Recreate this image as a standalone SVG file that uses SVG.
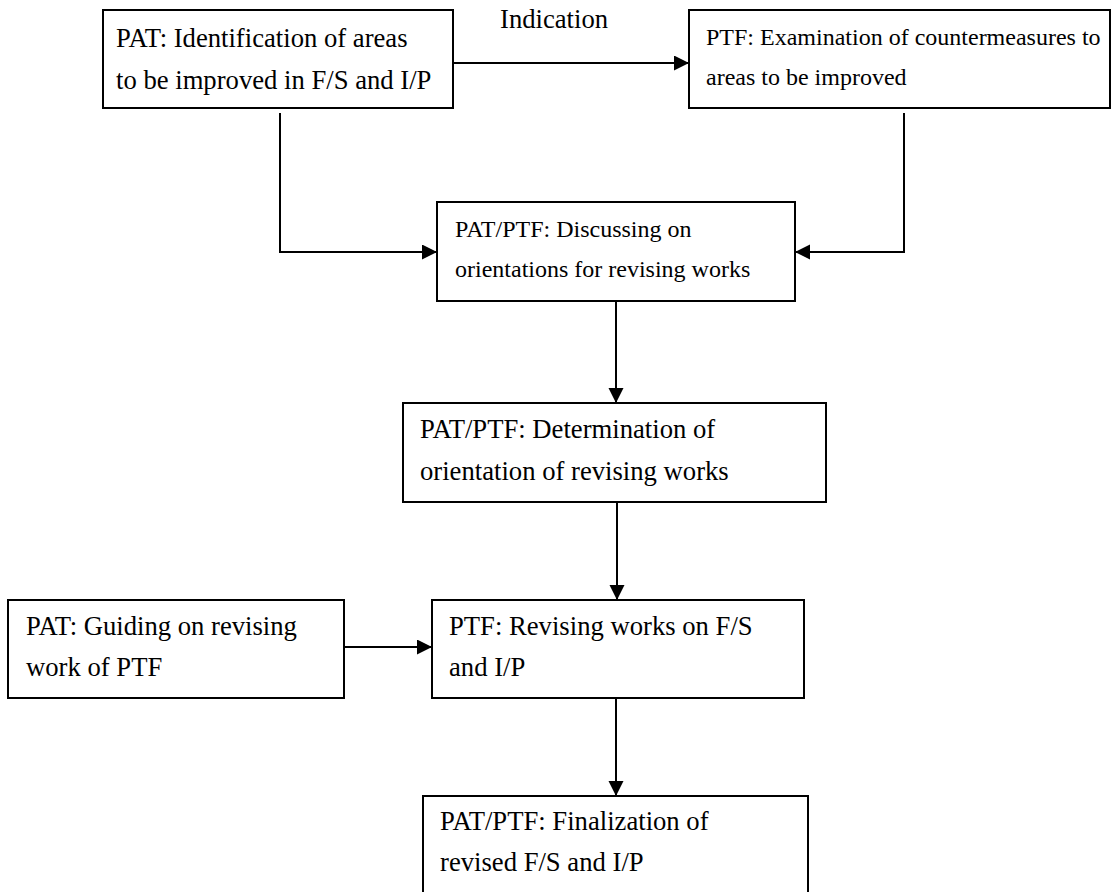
<svg xmlns="http://www.w3.org/2000/svg" width="1114" height="892" viewBox="0 0 1114 892">
<defs>
<marker id="arr" markerWidth="16" markerHeight="16" refX="15" refY="7.5" orient="auto" markerUnits="userSpaceOnUse">
<path d="M0,0 L15,7.5 L0,15 Z" fill="#000"/>
</marker>
<style>
.box{fill:#fff;stroke:#000;stroke-width:2}
.t{font-family:"Liberation Serif","Times New Roman",serif;font-size:26.67px;fill:#000}
.s{font-family:"Liberation Serif","Times New Roman",serif;font-size:24px;fill:#000}
.c{fill:none;stroke:#000;stroke-width:2}
</style>
</defs>
<rect width="1114" height="892" fill="#fff"/>
<g id="connectors">
<line class="c" x1="453" y1="63" x2="689" y2="63" marker-end="url(#arr)"/>
<polyline class="c" points="280,113 280,252 437,252" marker-end="url(#arr)"/>
<polyline class="c" points="904,113 904,252 795,252" marker-end="url(#arr)"/>
<line class="c" x1="616" y1="302" x2="616" y2="403" marker-end="url(#arr)"/>
<line class="c" x1="617" y1="503" x2="617" y2="600" marker-end="url(#arr)"/>
<line class="c" x1="344" y1="647" x2="432" y2="647" marker-end="url(#arr)"/>
<line class="c" x1="616" y1="699" x2="616" y2="796" marker-end="url(#arr)"/>
<text class="t" x="500" y="28">Indication</text>
</g>
<g id="n1">
<rect class="box" x="103" y="10" width="350" height="98"/>
<text class="t" x="116" y="47">PAT: Identification of areas</text>
<text class="t" x="116" y="89">to be improved in F/S and I/P</text>
</g>
<g id="n2">
<rect class="box" x="689" y="10" width="421" height="98"/>
<text class="s" x="706" y="45">PTF: Examination of countermeasures to</text>
<text class="s" x="706" y="85">areas to be improved</text>
</g>
<g id="n3">
<rect class="box" x="437" y="202" width="358" height="99"/>
<text class="s" x="455" y="237">PAT/PTF: Discussing on</text>
<text class="s" x="455" y="277">orientations for revising works</text>
</g>
<g id="n4">
<rect class="box" x="403" y="403" width="423" height="99"/>
<text class="t" x="420" y="438">PAT/PTF: Determination of</text>
<text class="t" x="420" y="480">orientation of revising works</text>
</g>
<g id="n5">
<rect class="box" x="432" y="600" width="372" height="98"/>
<text class="t" x="449" y="635">PTF: Revising works on F/S</text>
<text class="t" x="449" y="676">and I/P</text>
</g>
<g id="n6">
<rect class="box" x="8" y="600" width="336" height="98"/>
<text class="t" x="26" y="635">PAT: Guiding on revising</text>
<text class="t" x="26" y="676">work of PTF</text>
</g>
<g id="n7">
<rect class="box" x="423" y="796" width="385" height="110"/>
<text class="t" x="440" y="830">PAT/PTF: Finalization of</text>
<text class="t" x="440" y="871">revised F/S and I/P</text>
</g>
</svg>
